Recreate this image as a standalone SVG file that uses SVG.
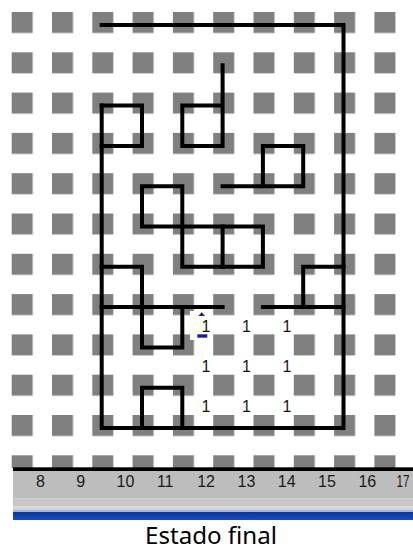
<svg xmlns="http://www.w3.org/2000/svg" width="413" height="552" viewBox="0 0 413 552">
  <style>
    .wall { fill: none; stroke: #000; stroke-width: 4; stroke-linecap: square; stroke-linejoin: miter; }
    .num { font-family: "Liberation Sans", Arial, sans-serif; font-size: 16px; fill: #1a1a1a; }
    .cell { font-family: "Liberation Sans", Arial, sans-serif; font-size: 16px; fill: #141414; text-anchor: middle; }
    .cap { font-family: "Noto Sans", "Open Sans", sans-serif; font-size: 23px; fill: #000; text-anchor: middle; }
  </style>
  <defs>
    <pattern id="dots" patternUnits="userSpaceOnUse" x="11.7" y="12" width="40.3" height="40.3">
      <rect x="0" y="0" width="21" height="21" fill="#808080"/>
    </pattern>
    <linearGradient id="blue" x1="0" y1="0" x2="0" y2="1">
      <stop offset="0" stop-color="#0a36a4"/>
      <stop offset="1" stop-color="#1c4cbc"/>
    </linearGradient>
  </defs>

  <rect x="0" y="0" width="413" height="552" fill="#fff"/>

  <g id="grid">
    <rect x="11" y="0" width="402" height="468" fill="url(#dots)"/>
  </g>

  <g id="walls">
    <path class="wall" d="M101.7,25 H343.5 V428 H101.7 V105.6"/>
    <path class="wall" d="M101.7,105.6 H142 V145.9 H101.7"/>
    <path class="wall" d="M222.6,65.3 V145.9 H182.3 V105.6 H222.6"/>
    <path class="wall" d="M222.6,186.2 H303.2 V145.9 H262.9 V186.2"/>
    <path class="wall" d="M182.3,186.2 H142 V226.5 H262.9 V266.8 H182.3 V186.2"/>
    <path class="wall" d="M222.6,226.5 V266.8"/>
    <path class="wall" d="M101.7,266.8 H142 V347.4 H182.3 V307.1"/>
    <path class="wall" d="M101.7,307.1 H222.6"/>
    <path class="wall" d="M262.9,307.1 H343.5"/>
    <path class="wall" d="M303.2,307.1 V266.8 H343.5"/>
    <path class="wall" d="M142,428 V387.7 H182.3 V428"/>
  </g>

  <g id="cursor">
    <rect x="190" y="311" width="20" height="29" fill="#fffef2"/>
    <polygon points="201.7,312.3 198.3,316 205,316" fill="#1c1c9c"/>
    <rect x="197.3" y="334.3" width="10" height="3.4" fill="#1c1ca8"/>
  </g>

  <g id="values">
    <text class="cell" x="206" y="332">1</text>
    <text class="cell" x="246.5" y="332">1</text>
    <text class="cell" x="287" y="332">1</text>
    <text class="cell" x="206" y="372">1</text>
    <text class="cell" x="246.5" y="372">1</text>
    <text class="cell" x="287" y="372">1</text>
    <text class="cell" x="206" y="412">1</text>
    <text class="cell" x="246.5" y="412">1</text>
    <text class="cell" x="287" y="412">1</text>
  </g>

  <g id="ruler">
    <rect x="13" y="467.3" width="400" height="3.7" fill="#000"/>
    <rect x="13" y="471" width="400" height="27.5" fill="#bdbdbd"/>
    <rect x="13" y="498.5" width="400" height="8" fill="#c9c8c6"/>
    <rect x="13" y="506.5" width="400" height="3" fill="#dcd8d0"/>
    <rect x="13" y="509.5" width="400" height="2.5" fill="#a6b6d6"/>
    <rect x="13" y="512" width="400" height="8" fill="url(#blue)"/>
    <text class="num" x="36" y="486.5">8</text>
    <text class="num" x="76.3" y="486.5">9</text>
    <text class="num" x="116.6" y="486.5">10</text>
    <text class="num" x="156.9" y="486.5">11</text>
    <text class="num" x="197.2" y="486.5">12</text>
    <text class="num" x="237.5" y="486.5">13</text>
    <text class="num" x="277.8" y="486.5">14</text>
    <text class="num" x="318.1" y="486.5">15</text>
    <text class="num" x="358.4" y="486.5">16</text>
    <text class="num" x="396.5" y="486.5" textLength="13" lengthAdjust="spacingAndGlyphs">17</text>
  </g>

  <g id="caption">
    <text class="cap" x="211" y="544" textLength="132" lengthAdjust="spacingAndGlyphs">Estado final</text>
  </g>
</svg>
